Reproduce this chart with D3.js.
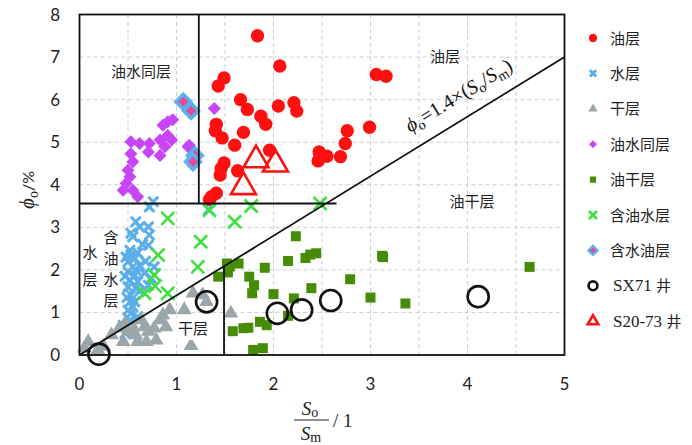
<!DOCTYPE html>
<html>
<head>
<meta charset="utf-8">
<script src="https://cdn.jsdelivr.net/npm/d3@7"></script>
<style>
  body { margin: 0; background: #fff; }
  svg { display: block; }
</style>
</head>
<body>
<div id="chart"></div>
<script>
(function(){

  // ---- data (x = So/Sm, y = phi_o %) ----
  var oilLayer = [[1.835,7.50],[2.065,6.79],[1.49,6.51],[1.43,6.32],[1.66,6.00],[1.73,5.77],[2.05,5.85],[2.21,5.93],
    [2.24,5.73],[1.87,5.61],[1.92,5.42],[1.41,5.42],[1.40,5.27],[1.69,5.23],[1.47,5.10],[1.60,4.93],[1.96,4.81],
    [1.49,4.51],[1.46,4.38],[1.45,4.23],[1.63,4.33],[1.41,3.80],[1.36,3.72],[1.34,3.65],[3.06,6.59],[3.16,6.55],
    [2.99,5.35],[2.76,5.27],[2.74,4.97],[2.69,4.66],[2.47,4.77],[2.55,4.67],[2.46,4.56]];
  var waterLayer = [[0.76,3.60],[0.72,3.48],[0.58,3.13],[0.62,3.01],[0.71,3.01],[0.53,2.86],[0.55,2.78],[0.72,2.82],
    [0.71,2.58],[0.52,2.46],[0.53,2.35],[0.57,2.27],[0.50,2.19],[0.55,2.07],[0.62,2.11],[0.50,1.96],[0.57,1.88],
    [0.67,1.92],[0.52,1.76],[0.60,1.72],[0.50,1.60],[0.58,1.57],[0.71,1.64],[0.53,1.41],[0.52,1.25],[0.55,1.13],
    [0.53,0.98],[0.52,0.82],[0.45,0.70],[0.47,0.51],[0.74,1.80],[0.77,2.07],[1.33,3.42],
    [0.48,2.30],[0.60,2.40],[0.58,2.00],[0.47,1.85],[0.62,1.50],[0.49,1.35],[0.57,1.25],[0.50,1.05],
    [0.60,0.90],[0.65,2.60],[0.68,2.20]];
  var dryLayer = [[0.09,0.31],[0.05,0.16],[0.19,0.12],[0.33,0.47],[0.41,0.63],[0.47,0.74],[0.50,0.55],[0.55,0.66],
    [0.58,0.47],[0.64,0.82],[0.67,0.66],[0.71,0.55],[0.77,0.63],[0.79,0.35],[0.83,0.82],[0.86,0.94],[0.89,0.66],
    [0.93,1.06],[0.69,0.31],[0.60,0.31],[0.45,0.31],[1.08,1.06],[1.17,1.45],[1.27,1.41],[1.31,1.25],[1.56,0.98],
    [1.15,0.22],[0.25,0.20]];
  var oilWaterLayer = [[0.91,5.48],[0.96,5.53],[0.86,5.40],[1.39,5.79],[0.53,5.01],[0.62,4.97],[0.72,4.97],[0.83,5.05],
    [0.91,5.16],[0.95,5.05],[0.88,4.89],[0.71,4.77],[0.83,4.69],[0.53,4.73],[0.55,4.54],[0.50,4.34],[0.52,4.19],
    [0.48,4.03],[0.45,3.87],[0.55,3.87],[0.60,3.72],[1.13,4.93],[1.15,4.54],[1.12,4.89],[1.17,4.46]];
  var oilDryLayer = [[2.23,2.79],[2.15,2.21],[2.33,2.28],[2.38,2.36],[2.44,2.39],[3.12,2.33],[3.13,2.30],[1.91,2.05],
    [1.52,2.15],[1.64,2.15],[1.43,1.84],[1.53,1.94],[1.75,1.84],[1.80,1.64],[1.78,1.45],[2.00,1.43],[2.21,1.33],
    [2.39,1.57],[2.79,1.78],[3.00,1.35],[1.86,0.78],[1.93,0.70],[2.15,0.92],[1.58,0.56],[1.69,0.63],[1.74,0.64],
    [1.79,0.12],[1.89,0.16],[3.36,1.21],[4.64,2.07],[1.55,2.08]];
  var oilBearingWater = [[0.91,3.21],[1.34,3.40],[1.60,3.13],[1.77,3.50],[1.25,2.66],[0.81,2.35],[1.22,2.07],
    [0.77,1.88],[0.67,1.45],[0.91,1.45],[0.78,1.62],[2.48,3.56]];
  var waterBearingOil = [[1.07,5.95],[1.15,5.74],[1.19,4.69],[1.17,4.54]];
  var wellSX71 = [[0.20,0.02],[1.31,1.25],[2.04,0.98],[2.29,1.06],[2.59,1.28],[4.11,1.37]];
  var wellS2073 = [[1.82,4.58],[2.02,4.48],[1.69,3.95]];

  var xTicks = [0,1,2,3,4,5];
  var yTicks = [0,1,2,3,4,5,6,7,8];
  var legendNames = ["油层","水层","干层","油水同层","油干层","含油水层","含水油层","SX71 井","S20-73 井"];

  // boundaries
  var phiCut = 3.56, ratioCutTop = 1.23, ratioCutDry = 1.49, slope = 1.4, phiCutEnd = 2.65;

  var width = 692, height = 445;
  var svg = d3.select("#chart").append("svg").attr("width", width).attr("height", height);

  var x = d3.scaleLinear().domain([0,5]).range([79.5,564.5]);
  var y = d3.scaleLinear().domain([0,8]).range([355,14.5]);

  var serif = "'Liberation Serif', 'DejaVu Serif', serif";
  var cjk = "'Noto Sans CJK SC', sans-serif";
  var sans = "Lato, 'Noto Sans', sans-serif";

  // grid
  var grid = svg.append("g").attr("stroke","#c9d1d5").attr("stroke-dasharray","4,3").attr("stroke-width",1);
  d3.range(0.5,5,0.5).forEach(function(v){
    grid.append("line").attr("x1",x(v)).attr("x2",x(v)).attr("y1",y(0)).attr("y2",y(8));
  });
  d3.range(1,8,1).forEach(function(v){
    grid.append("line").attr("x1",x(0)).attr("x2",x(5)).attr("y1",y(v)).attr("y2",y(v));
  });

  // tick labels
  svg.append("g").selectAll("text").data(xTicks).enter().append("text")
    .attr("x", function(d){return x(d)}).attr("y", 390)
    .attr("text-anchor","middle").attr("font-family",sans).attr("font-size",17)
    .attr("fill","#222").text(function(d){return d});
  svg.append("g").selectAll("text").data(yTicks).enter().append("text")
    .attr("x", 60).attr("y", function(d){return y(d)+6})
    .attr("text-anchor","end").attr("font-family",sans).attr("font-size",17)
    .attr("fill","#222").text(function(d){return d});

  // marker shapes
  function diamondPath(r){ return "M0,"+(-r)+"L"+r+",0L0,"+r+"L"+(-r)+",0Z"; }
  function crossPath(r){ return "M"+(-r)+","+(-r)+"L"+r+","+r+"M"+(-r)+","+r+"L"+r+","+(-r); }

  var plot = svg.append("g");
  function pos(d){ return "translate("+x(d[0])+","+y(d[1])+")"; }

  function drawSeries(data, draw){
    var g = plot.append("g");
    g.selectAll("path").data(data).enter().append("path").attr("transform", pos).call(draw);
  }

  var styles = [
    function(s, k){ s.attr("d", d3.symbol().type(d3.symbolCircle).size(k*k*140)()).attr("fill","#ff1010"); },
    function(s, k){ s.attr("d", crossPath(5*k)).attr("fill","none").attr("stroke","#5aaeea").attr("stroke-width",3); },
    function(s, k){ s.attr("d", d3.symbol().type(d3.symbolTriangle).size(k*k*95)()).attr("fill","#9aa6aa"); },
    function(s, k){ s.attr("d", diamondPath(6.5*k)).attr("fill","#c845f7"); },
    function(s, k){ s.attr("d", d3.symbol().type(d3.symbolSquare).size(k*k*100)()).attr("fill","#468c06"); },
    function(s, k){ s.attr("d", crossPath(6.5*k)).attr("fill","none").attr("stroke","#3fe03f").attr("stroke-width",2.6); },
    function(s, k){ s.attr("d", diamondPath(7.5*k)).attr("fill","#e8479c").attr("stroke","#5ab2ea").attr("stroke-width",3.5*k); },
    function(s, k){ s.attr("d", d3.symbol().type(d3.symbolCircle).size(k*k*350)()).attr("fill","none").attr("stroke","#111").attr("stroke-width",2.6); },
    function(s, k){ s.attr("d", d3.symbol().type(d3.symbolTriangle).size(k*k*270)()).attr("fill","none").attr("stroke","#ff1010").attr("stroke-width",2.6); }
  ];
  var series = [oilLayer, waterLayer, dryLayer, oilWaterLayer, oilDryLayer, oilBearingWater, waterBearingOil, wellSX71, wellS2073];
  series.forEach(function(data, i){
    drawSeries(data, function(s){ styles[i](s, 1); });
  });

  // boundary lines
  var lines = svg.append("g").attr("stroke","#111").attr("stroke-width",1.8);
  lines.append("line").attr("x1",x(0)).attr("y1",y(0)).attr("x2",x(5)).attr("y2",y(5*slope));
  lines.append("line").attr("x1",x(0)).attr("y1",y(phiCut)).attr("x2",x(phiCutEnd)).attr("y2",y(phiCut));
  lines.append("line").attr("x1",x(ratioCutTop)).attr("y1",y(8)).attr("x2",x(ratioCutTop)).attr("y2",y(phiCut));
  lines.append("line").attr("x1",x(ratioCutDry)).attr("y1",y(0)).attr("x2",x(ratioCutDry)).attr("y2",y(ratioCutDry*slope));

  // frame
  svg.append("rect").attr("x",x(0)).attr("y",y(8)).attr("width",x(5)-x(0)).attr("height",y(0)-y(8))
    .attr("fill","none").attr("stroke","#111").attr("stroke-width",1.8);

  // region labels
  function label(tx, px, py){
    svg.append("text").attr("x",px).attr("y",py).attr("text-anchor","middle")
      .attr("font-family",cjk).attr("font-size",15).attr("fill","#222").text(tx);
  }
  label("油层", 445, 62);
  label("油水同层", 141, 77);
  label("油干层", 472, 207);
  svg.append("rect").attr("x",176).attr("y",318).attr("width",34).attr("height",22).attr("fill","#fff");
  label("干层", 193, 334);
  function vlabel(tx, px, py, step){
    tx.split("").forEach(function(c, i){ label(c, px, py + i*step); });
  }
  vlabel("水层", 90, 258, 27);
  vlabel("含油水层", 111, 243, 21);

  // formula
  var ang = Math.atan2(y(0)-y(slope), x(1)-x(0)) * 180 / Math.PI;
  var f = svg.append("text").attr("transform","translate(462,101) rotate("+(-ang)+")")
    .attr("text-anchor","middle").attr("font-family",serif).attr("font-size",20).attr("fill","#111");
  f.append("tspan").attr("font-style","italic").text("ϕ");
  f.append("tspan").attr("font-size",14).attr("dy",4).text("o");
  f.append("tspan").attr("dy",-4).text("=1.4×(");
  f.append("tspan").attr("font-style","italic").text("S");
  f.append("tspan").attr("font-size",14).attr("dy",4).text("o");
  f.append("tspan").attr("dy",-4).text("/");
  f.append("tspan").attr("font-style","italic").text("S");
  f.append("tspan").attr("font-size",14).attr("dy",4).text("m");
  f.append("tspan").attr("dy",-4).text(")");

  // y axis title
  var yt = svg.append("text").attr("transform","translate(34,190) rotate(-90)").attr("text-anchor","middle")
    .attr("font-family",serif).attr("font-size",21).attr("fill","#222");
  yt.append("tspan").attr("font-style","italic").text("ϕ");
  yt.append("tspan").attr("font-size",14).attr("dy",4).text("o");
  yt.append("tspan").attr("dy",-4).attr("font-family",sans).attr("font-size",16).text("/%");

  // x axis title (fraction)
  var num = svg.append("text").attr("x",310).attr("y",415).attr("text-anchor","middle").attr("font-family",serif).attr("font-size",19).attr("fill","#222");
  num.append("tspan").attr("font-style","italic").text("S");
  num.append("tspan").attr("font-size",14).attr("dy",2).text("o");
  svg.append("line").attr("x1",294).attr("x2",329).attr("y1",420).attr("y2",420).attr("stroke","#222").attr("stroke-width",1);
  var den = svg.append("text").attr("x",311).attr("y",440).attr("text-anchor","middle").attr("font-family",serif).attr("font-size",19).attr("fill","#222");
  den.append("tspan").attr("font-style","italic").text("S");
  den.append("tspan").attr("font-size",14).attr("dy",2).text("m");
  svg.append("text").attr("x",333).attr("y",427).attr("font-family",serif).attr("font-size",19).attr("fill","#222").text("/ 1");

  // legend
  var lg = svg.append("g");
  legendNames.forEach(function(name, i){
    var ly = 38 + i*35.4;
    lg.append("path").attr("transform","translate(593,"+ly+")").call(function(s){ styles[i](s, i >= 7 ? 0.42 : 0.62); });
    var t = lg.append("text").attr("x", 610).attr("y", ly+5.5).attr("font-size",15).attr("fill","#222");
    if (i >= 7) {
      var parts = name.split(" ");
      t.attr("x",613);
      t.append("tspan").attr("font-family",serif).attr("font-size",17).text(parts[0]+" ");
      t.append("tspan").attr("font-family",cjk).text(parts[1]);
    } else {
      t.attr("font-family",cjk).text(name);
    }
  });

})();
</script>
</body>
</html>
